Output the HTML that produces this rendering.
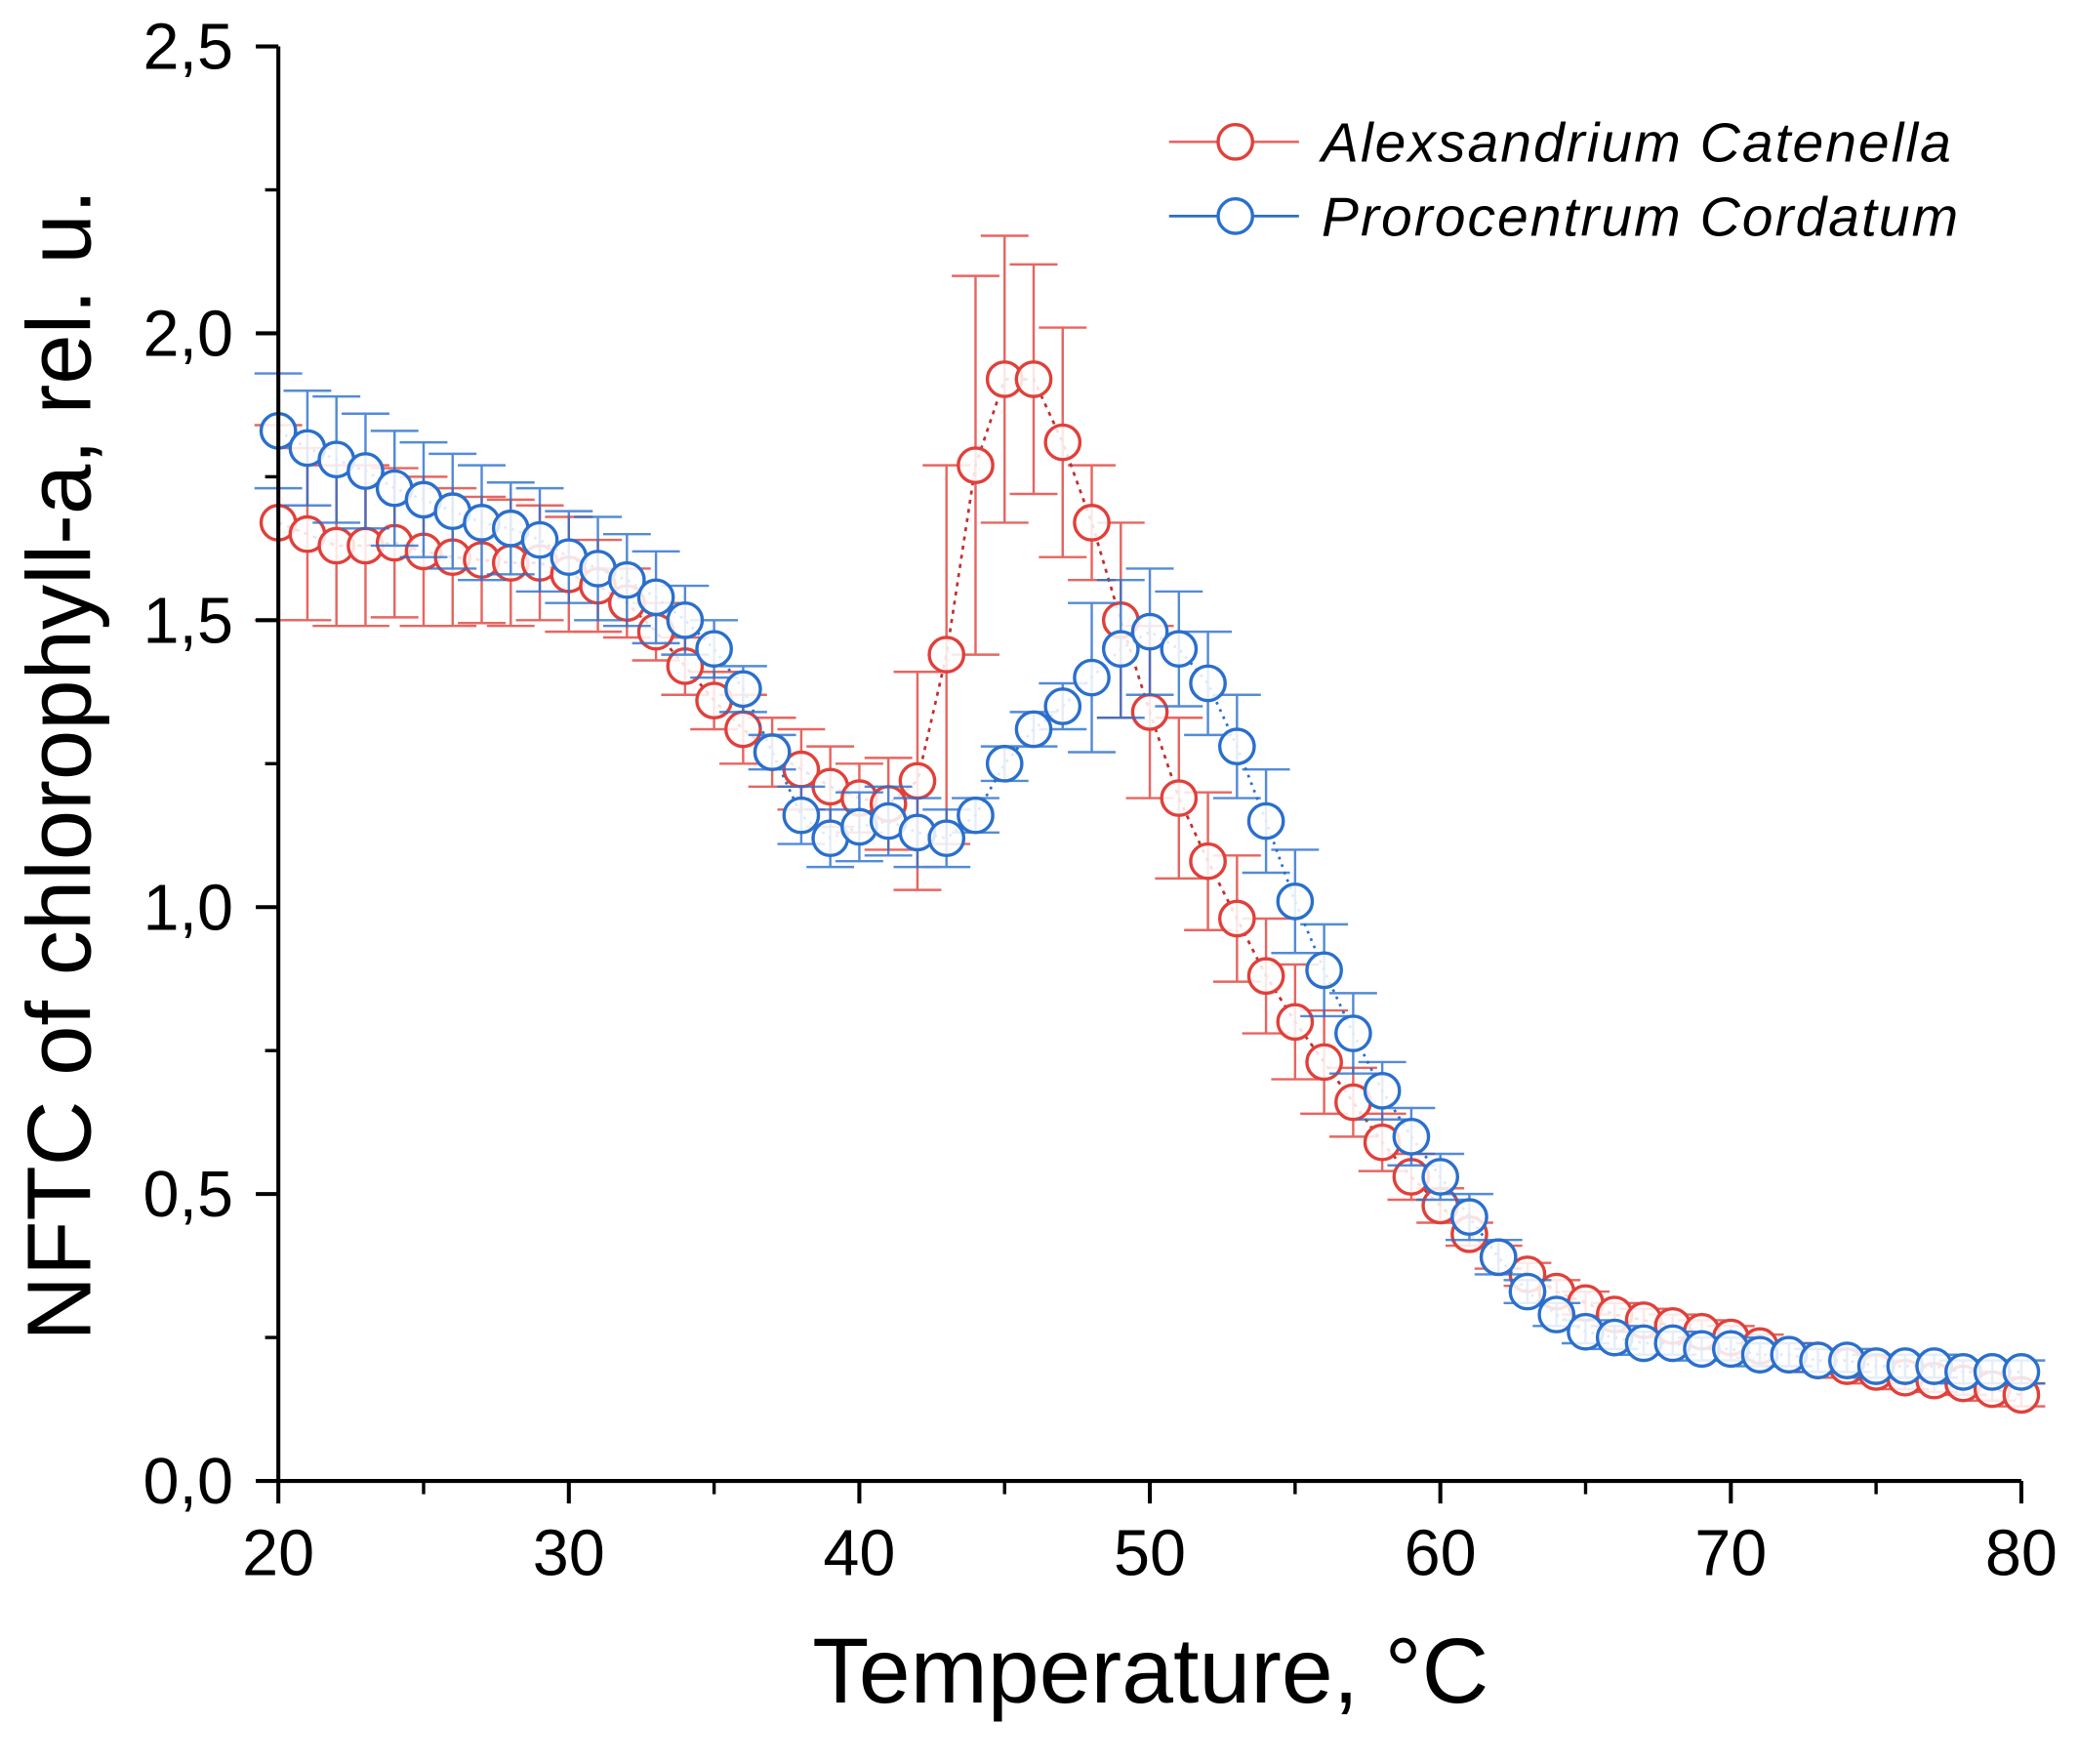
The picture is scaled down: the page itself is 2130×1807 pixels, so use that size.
<!DOCTYPE html>
<html><head><meta charset="utf-8"><style>
html,body{margin:0;padding:0;background:#fff}
svg{display:block}
text{font-family:"Liberation Sans",sans-serif}
</style></head><body>
<svg id="chart" width="2130" height="1807" viewBox="0 0 1568.5 1330.5" preserveAspectRatio="none" xmlns="http://www.w3.org/2000/svg">
<g id="plot"></g>
<g id="axes"></g>
<text transform="translate(68,577) rotate(-90)" text-anchor="middle" font-size="68" fill="#000">NFTC of chlorophyll-a, rel. u.</text>
<text x="868" y="1284" text-anchor="middle" font-size="70" fill="#000">Temperature, °C</text>
<g>
<g>
<line x1="882" y1="107" x2="980" y2="107" stroke="#e36a66" stroke-width="2"/>
<circle cx="932" cy="107" r="13" fill="#fff" stroke="#e0403a" stroke-width="2.5"/>
<text x="997" y="122" font-size="42" letter-spacing="1.5" font-style="italic" fill="#000">Alexsandrium Catenella</text>
</g>
<g>
<line x1="882" y1="163" x2="980" y2="163" stroke="#2a6fcc" stroke-width="2"/>
<circle cx="932" cy="163" r="13" fill="#fff" stroke="#2a6fcc" stroke-width="2.5"/>
<text x="997" y="178" font-size="42" letter-spacing="1.5" font-style="italic" fill="#000">Prorocentrum Cordatum</text>
</g>
</g>
</svg>
<script>
const temps=[];for(let t=20;t<=80;t++)temps.push(t);
const redVals=[1.67,1.65,1.63,1.63,1.635,1.62,1.61,1.605,1.60,1.60,1.58,1.56,1.53,1.48,1.42,1.36,1.31,1.27,1.24,1.21,1.19,1.18,1.22,1.44,1.77,1.92,1.92,1.81,1.67,1.50,1.34,1.19,1.08,0.98,0.88,0.80,0.73,0.66,0.59,0.53,0.48,0.43,0.39,0.36,0.33,0.31,0.29,0.28,0.27,0.26,0.25,0.235,0.22,0.21,0.20,0.19,0.18,0.175,0.17,0.16,0.15];
const redErr=[0.17,0.15,0.14,0.14,0.13,0.13,0.12,0.11,0.11,0.1,0.1,0.08,0.06,0.05,0.05,0.05,0.06,0.06,0.07,0.07,0.06,0.08,0.19,0.33,0.33,0.25,0.2,0.2,0.1,0.17,0.15,0.14,0.12,0.11,0.1,0.1,0.09,0.06,0.05,0.04,0.03,0.02,0.02,0.02,0.02,0.02,0.02,0.02,0.02,0.02,0.02,0.02,0.02,0.02,0.02,0.02,0.02,0.02,0.02,0.02,0.02];
const blueVals=[1.83,1.80,1.78,1.76,1.73,1.71,1.69,1.67,1.66,1.64,1.61,1.59,1.57,1.54,1.50,1.45,1.38,1.27,1.16,1.12,1.14,1.15,1.13,1.12,1.16,1.25,1.31,1.35,1.40,1.45,1.48,1.45,1.39,1.28,1.15,1.01,0.89,0.78,0.68,0.60,0.53,0.46,0.39,0.33,0.29,0.26,0.25,0.24,0.24,0.23,0.23,0.22,0.22,0.21,0.21,0.20,0.20,0.20,0.19,0.19,0.19];
const blueErr=[0.1,0.1,0.11,0.1,0.1,0.1,0.1,0.1,0.08,0.09,0.08,0.09,0.08,0.08,0.06,0.05,0.04,0.03,0.05,0.05,0.06,0.06,0.06,0.05,0.03,0.03,0.03,0.04,0.13,0.12,0.11,0.1,0.09,0.09,0.09,0.09,0.08,0.07,0.05,0.05,0.04,0.04,0.03,0.02,0.02,0.02,0.02,0.02,0.02,0.02,0.02,0.02,0.02,0.02,0.02,0.02,0.02,0.02,0.02,0.02,0.02];
const xTicks=[20,30,40,50,60,70,80];
const yTicks=[0,0.5,1.0,1.5,2.0,2.5];
const yTickLabels=["0,0","0,5","1,0","1,5","2,0","2,5"];
const NS="http://www.w3.org/2000/svg";
const X0=210,X1=1525,Y0=1117,Y1=35;
const xs=v=>X0+(v-20)/(80-20)*(X1-X0);
const ys=v=>Y0-(v-0)/(2.5-0)*(Y0-Y1);
function mk(tag,attrs,parent){const e=document.createElementNS(NS,tag);for(const k in attrs)e.setAttribute(k,attrs[k]);parent.appendChild(e);return e;}
const plot=document.getElementById('plot'),axes=document.getElementById('axes');
function series(vals,errs,color,lineColor,name,dash){
  const g=mk('g',{},plot);
  
  
  const eg=mk('g',{stroke:color,'stroke-width':1.8,opacity:0.8},g);
  vals.forEach((v,i)=>{const x=xs(temps[i]);const t=ys(v+errs[i]),b=ys(v-errs[i]);
    const p=mk('path',{d:`M${x},${t}V${b}M${x-18},${t}H${x+18}M${x-18},${b}H${x+18}`,fill:'none'},eg);
    
    });
  const line=mk('polyline',{points:vals.map((v,i)=>xs(temps[i])+','+ys(v)).join(' '),fill:'none',stroke:lineColor,'stroke-width':2,'stroke-dasharray':dash},g);
  
  
  vals.forEach((v,i)=>{const c=mk('circle',{cx:xs(temps[i]),cy:ys(v),r:13,fill:'#fff','fill-opacity':0.85,stroke:color,'stroke-width':2.5},g);
    
    });
}
series(redVals,redErr,'#e0403a','#c03030','alexandrium','3,4');
series(blueVals,blueErr,'#2a6fcc','#2a6fcc','prorocentrum','2,4');
const ax=mk('path',{d:`M${X0},${Y1}V${Y0}H${X1}`,fill:'none',stroke:'#000','stroke-width':3},axes);


yTicks.forEach((v,i)=>{const y=ys(v);
  const t=mk('line',{x1:X0-17,y1:y,x2:X0,y2:y,stroke:'#000','stroke-width':3},axes);
  
  
  const l=mk('text',{x:176,y:y+17,'text-anchor':'end','font-size':49,fill:'#000'},axes);l.textContent=yTickLabels[i];
  
  
  if(i<yTicks.length-1){const m=mk('line',{x1:X0-10,y1:ys(v+0.25),x2:X0,y2:ys(v+0.25),stroke:'#000','stroke-width':2.5},axes);
    
    }
});
xTicks.forEach((v,i)=>{const x=xs(v);
  const t=mk('line',{x1:x,y1:Y0,x2:x,y2:Y0+17,stroke:'#000','stroke-width':3},axes);
  
  
  const l=mk('text',{x:x,y:1188,'text-anchor':'middle','font-size':49,fill:'#000'},axes);l.textContent=String(v);
  
  
  if(i<xTicks.length-1){const m=mk('line',{x1:xs(v+5),y1:Y0,x2:xs(v+5),y2:Y0+10,stroke:'#000','stroke-width':2.5},axes);
    
    }
});
</script>
</body></html>
